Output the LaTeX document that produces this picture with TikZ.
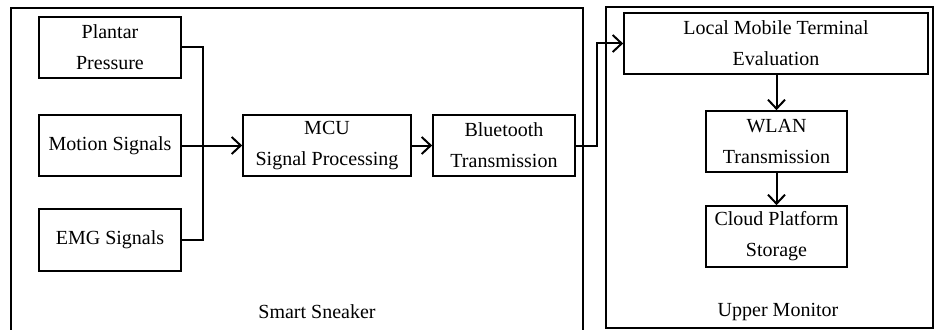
\documentclass[tikz,border=0pt]{standalone}
\usepackage{fontspec}
\setmainfont{Liberation Serif}
\usetikzlibrary{arrows.meta}
\tikzset{
  blk/.style={draw, line width=1.7pt, align=center, inner sep=0pt,
    font=\fontsize{20pt}{31pt}\selectfont},
  frame/.style={draw, line width=1.7pt},
  conn/.style={line width=2pt},
  arr/.style={line width=2pt, -{Straight Barb[length=9pt,width=17pt,line width=2pt]}},
  lbl/.style={font=\fontsize{20pt}{24pt}\selectfont, inner sep=0pt}
}
\begin{document}
\begin{tikzpicture}[x=1pt,y=-1pt]
\useasboundingbox (0,0) rectangle (936,329);
% containers
\draw[frame] (11,329.5) -- (11,8) -- (583,8) -- (583,329.5);
\draw[frame] (606,7) rectangle (933,328);
% blocks
\node[blk, minimum width=142pt, minimum height=61pt] (plantar) at (110,47.5) {Plantar\\Pressure};
\node[blk, minimum width=142pt, minimum height=61pt] (motion) at (110,145.5) {Motion Signals};
\node[blk, minimum width=142pt, minimum height=62pt] (emg) at (110,240) {EMG Signals};
\node[blk, minimum width=168pt, minimum height=61pt] (mcu) at (327,145.5) {MCU\\Signal Processing};
\node[blk, minimum width=142pt, minimum height=61pt] (bt) at (504,145.5) {Bluetooth\\Transmission};
\node[blk, minimum width=304pt, minimum height=61pt] (local) at (776,43.5) {Local Mobile Terminal\\Evaluation};
\node[blk, minimum width=141pt, minimum height=61pt] (wlan) at (776.5,141.5) {WLAN\\Transmission};
\node[blk, minimum width=141pt, minimum height=61pt] (cloud) at (776.5,236.5) {Cloud Platform\\Storage};
% labels
\node[lbl] (ss) at (317,312) {Smart Sneaker};
\node[lbl] (um) at (778,312) {Upper Monitor};
% connectors
\draw[conn] (plantar.east) -- ++(21,0) |- (emg.east);
\draw[arr] (motion.east) -- (mcu.west);
\draw[arr] (mcu.east) -- (bt.west);
\draw[arr] (bt.east) -- ++(21,0) |- (local.west);
\draw[arr] (local.south -| wlan.north) -- (wlan.north);
\draw[arr] (wlan.south) -- (cloud.north);
\end{tikzpicture}
\end{document}
